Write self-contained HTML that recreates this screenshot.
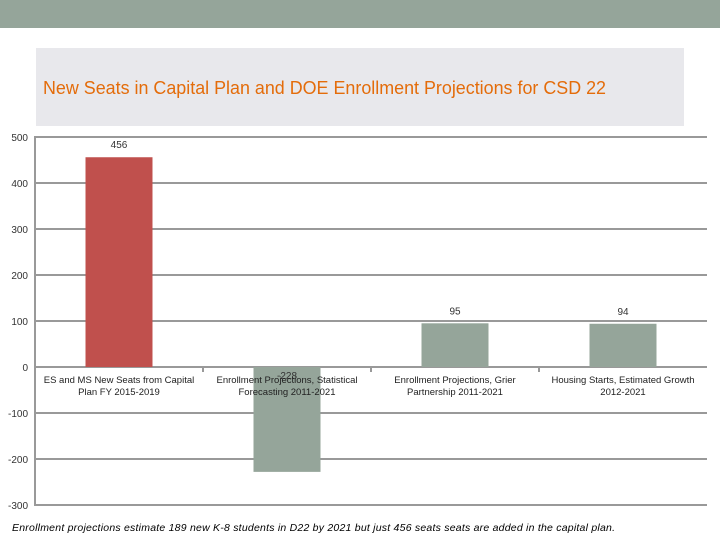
<!DOCTYPE html>
<html><head><meta charset="utf-8"><style>
body{margin:0;width:720px;height:540px;background:#fff;overflow:hidden;font-family:"Liberation Sans",sans-serif}
</style></head><body>
<svg width="720" height="540" xmlns="http://www.w3.org/2000/svg">
<rect x="0" y="0" width="720" height="28" fill="#95a59a"/>
<rect x="36" y="48" width="648" height="78" fill="#e8e8ec"/>
<text x="43" y="94" font-size="18" fill="#e46c0a" textLength="563" lengthAdjust="spacingAndGlyphs">New Seats in Capital Plan and DOE Enrollment Projections for CSD 22</text>
<g id="grid"></g><g id="bars"></g><g id="labels"></g>
<text x="12" y="531" font-size="10.5" font-style="italic" fill="#000" textLength="603" lengthAdjust="spacing">Enrollment projections estimate 189 new K-8 students in D22 by 2021 but just 456 seats seats are added in the capital plan.</text>
</svg>
<script>
const categories=[["ES and MS New Seats from Capital","Plan FY 2015-2019"],["Enrollment Projections, Statistical","Forecasting 2011-2021"],["Enrollment Projections, Grier","Partnership 2011-2021"],["Housing Starts, Estimated Growth","2012-2021"]];
const values=[456,-228,95,94];
const ticks=[500,400,300,200,100,0,-100,-200,-300];
const colors=["#c0504d","#95a59a","#95a59a","#95a59a"];
const NS="http://www.w3.org/2000/svg";
const x0=35,x1=707,y0v=367,pxPer=0.46;
const y=v=>y0v-v*pxPer;
const band=(x1-x0)/categories.length;
const xc=i=>x0+band*(i+0.5);
function mk(t,a,p){const e=document.createElementNS(NS,t);for(const k in a)e.setAttribute(k,a[k]);document.getElementById(p).appendChild(e);return e;}
ticks.forEach(t=>{
 const l=mk("line",{x1:x0,x2:x1,y1:y(t),y2:y(t),stroke:"#999","stroke-width":2},"grid");
 
 
 const tx=mk("text",{x:28,y:y(t)+4,"font-size":10,"text-anchor":"end",fill:"#333"},"grid");
 tx.textContent=t;
 
 
});
const ax=mk("line",{x1:x0,x2:x0,y1:y(500)-1,y2:y(-300)+1,stroke:"#999","stroke-width":2},"grid");


for(let i=1;i<categories.length;i++){
 const tk=mk("line",{x1:x0+band*i,x2:x0+band*i,y1:y(0),y2:y(0)+5,stroke:"#999","stroke-width":2},"grid");
 
 
}
const bw=67;
values.forEach((v,i)=>{
 const top=Math.min(y(v),y(0)),h=Math.abs(y(v)-y(0));
 const r=mk("rect",{x:xc(i)-bw/2,y:top,width:bw,height:h,fill:colors[i]},"bars");
 
 
 const vl=mk("text",{x:xc(i),y:(v>=0?y(v)-9:y(0)+12),"font-size":10,"text-anchor":"middle",fill:"#333"},"labels");
 vl.textContent=v;
 
 
 categories[i].forEach((line,j)=>{
  const c=mk("text",{x:xc(i),y:y(0)+16+j*12,"font-size":9.5,"text-anchor":"middle",fill:"#222"},"labels");
  c.textContent=line;
  
  
 });
});
</script>
</body></html>
